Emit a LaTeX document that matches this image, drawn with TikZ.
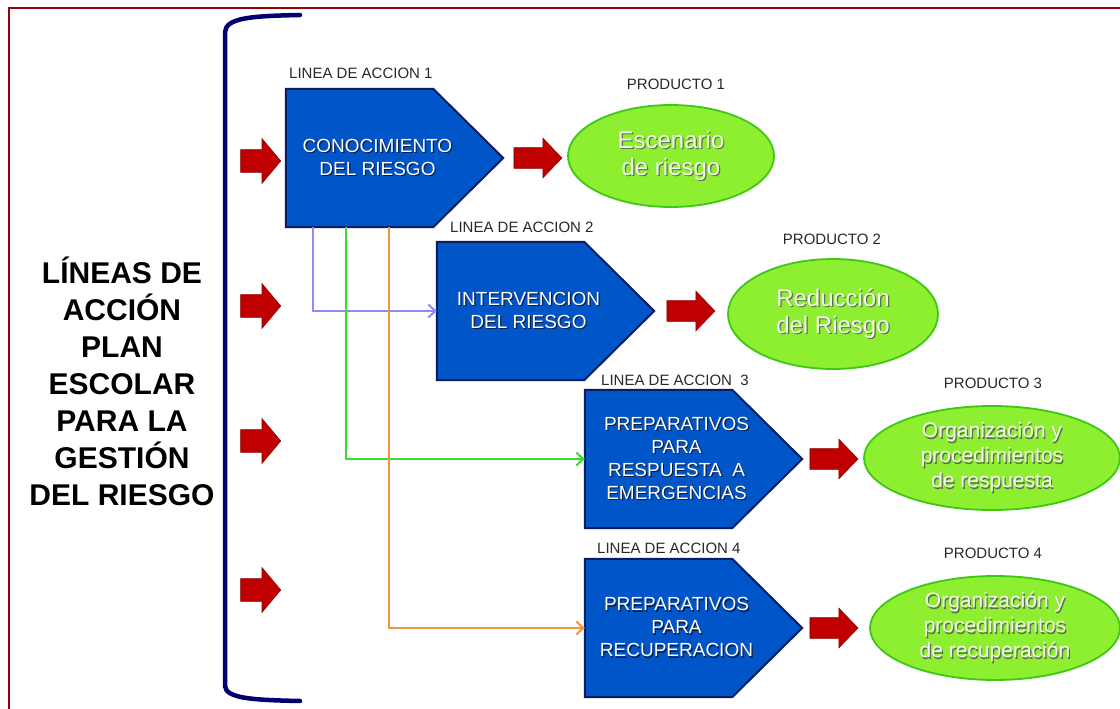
\documentclass[tikz,border=0pt]{standalone}
\usepackage{fontspec}
\setmainfont{Liberation Sans}
\usetikzlibrary{shapes.arrows,shapes.geometric,arrows.meta,calc}
\definecolor{boxblue}{RGB}{0,86,200}
\definecolor{boxedge}{RGB}{10,28,100}
\definecolor{leafgreen}{RGB}{142,238,48}
\definecolor{leafedge}{RGB}{60,200,20}
\definecolor{arrowred}{RGB}{192,0,0}
\definecolor{arrowedge}{RGB}{140,0,0}
\definecolor{bracenavy}{RGB}{0,0,112}
\definecolor{framered}{RGB}{150,0,0}
\definecolor{linkpurple}{RGB}{140,140,245}
\definecolor{linkgreen}{RGB}{60,220,50}
\definecolor{linkorange}{RGB}{240,150,60}
\definecolor{labelgray}{RGB}{40,40,40}
\definecolor{boxshadow}{RGB}{10,30,70}
\definecolor{leafshadow}{RGB}{90,110,80}
\definecolor{leaftext}{RGB}{244,255,232}
\newcommand{\txtshadow}[2]{\makebox[0pt][l]{\kern1.2pt\raisebox{-1.2pt}{\textcolor{#1}{#2}}}#2}
\newcommand{\bs}[1]{\txtshadow{boxshadow}{#1}}
\newcommand{\ls}[1]{\txtshadow{leafshadow}{#1}}
\begin{document}
\begin{tikzpicture}[x=1pt,y=-1pt,
  boxframe/.style={draw=none, minimum width=217pt, minimum height=138pt, inner sep=0pt},
  boxshape/.style={fill=boxblue, draw=boxedge, line width=2pt, line join=miter},
  boxtext/.style={text=white, align=center, inner sep=0pt, font=\fontsize{19}{23}\selectfont},
  leaf/.style={ellipse, fill=leafgreen, draw=leafedge, line width=1.8pt, inner sep=0pt, text=leaftext, align=center},
  bigleaf/.style={leaf, font=\fontsize{24}{27}\selectfont},
  smallleaf/.style={leaf, font=\fontsize{21}{25}\selectfont},
  redarrow/.style={single arrow, fill=arrowred, draw=arrowedge, line width=0.6pt, inner sep=0pt,
     text height=10pt, text depth=10pt, text width=0pt,
     single arrow head extend=9.5pt, single arrow head indent=0pt, single arrow tip angle=92,
     minimum width=39pt, minimum height=48pt},
  siderarrow/.style={single arrow, fill=arrowred, draw=arrowedge, line width=0.6pt, inner sep=0pt,
     text height=11pt, text depth=11pt, text width=0pt,
     single arrow head extend=11pt, single arrow head indent=0pt, single arrow tip angle=100,
     minimum width=44pt, minimum height=40pt},
  linelabel/.style={anchor=base west, inner sep=0pt, text=labelgray, font=\fontsize{15}{17}\selectfont},
  prodlabel/.style={anchor=base, inner sep=0pt, text=labelgray, font=\fontsize{15}{17}\selectfont},
  lefttext/.style={align=center, inner sep=0pt, font=\fontsize{30}{37}\selectfont\bfseries},
  link/.style={line width=2pt, -{Straight Barb[length=7pt,width=13pt]}},
  bracepath/.style={draw=bracenavy, line width=4.5pt, line cap=round},
  frameline/.style={draw=framered, line width=2.5pt}
]
\useasboundingbox (0,0) rectangle (1120,709);
\fill[white] (0,0) rectangle (1120,709);
% frame
\draw[frameline] (9,716) -- (9,8) -- (1126,8);
% brace
\draw[bracepath] (300,15) .. controls (250,16) and (226,18) .. (225,32) -- (225,686)
   .. controls (226,698) and (250,700) .. (300,701);
% left title
\node[lefttext] (title) at (122,381) {LÍNEAS DE\\ACCIÓN\\PLAN\\ESCOLAR\\PARA LA\\GESTIÓN\\DEL RIESGO};
% left arrows
\node[siderarrow] (s1) at (256,161) {};
\node[siderarrow] (s2) at (256,306) {};
\node[siderarrow] (s3) at (256,441) {};
\node[siderarrow] (s4) at (256,590) {};
% boxes
\node[boxframe] (b1) at (394.5,158) {};
\node[boxframe] (b2) at (545.5,311) {};
\node[boxframe] (b3) at (693.5,459) {};
\node[boxframe] (b4) at (693.5,628) {};
\foreach \b in {b1,b2,b3,b4}{
  \draw[boxshape] (\b.north west) -- ($(\b.north east)+(-70,0)$) -- (\b.east)
     -- ($(\b.south east)+(-70,0)$) -- (\b.south west) -- cycle;
}
\node[boxtext] (t1) at ($(b1.center)+(-17,0)$) {\bs{CONOCIMIENTO}\\\bs{DEL RIESGO}};
\node[boxtext] (t2) at ($(b2.center)+(-17,0)$) {\bs{INTERVENCION}\\\bs{DEL RIESGO}};
\node[boxtext] (t3) at ($(b3.center)+(-17,0)$) {\bs{PREPARATIVOS}\\\bs{PARA}\\\bs{RESPUESTA\ \ A}\\\bs{EMERGENCIAS}};
\node[boxtext] (t4) at ($(b4.center)+(-17,0)$) {\bs{PREPARATIVOS}\\\bs{PARA}\\\bs{RECUPERACION}};
% line labels
\node[linelabel] (l1) at (289,78.5) {LINEA DE ACCION 1};
\node[linelabel] (l2) at (450,232) {LINEA DE ACCION 2};
\node[linelabel] (l3) at (601,385) {LINEA DE ACCION\ \ 3};
\node[linelabel] (l4) at (597,553) {LINEA DE ACCION 4};
% right arrows
\node[redarrow] (a1) at (533,158) {};
\node[redarrow] (a2) at (686,311) {};
\node[redarrow] (a3) at (829,459) {};
\node[redarrow] (a4) at (829,628) {};
% products
\node[prodlabel] (p1) at (676,89) {PRODUCTO 1};
\node[prodlabel] (p2) at (832,244) {PRODUCTO 2};
\node[prodlabel] (p3) at (993,388) {PRODUCTO 3};
\node[prodlabel] (p4) at (993,558) {PRODUCTO 4};
\node[bigleaf, minimum width=206pt, minimum height=102pt] (e1) at (671,156) {\ls{Escenario}\\\ls{de riesgo}};
\node[bigleaf, minimum width=210pt, minimum height=110pt] (e2) at (833,314) {\ls{Reducción}\\\ls{del Riesgo}};
\node[smallleaf, minimum width=256pt, minimum height=104pt] (e3) at (992,458) {\ls{Organización y}\\\ls{procedimientos}\\\ls{de respuesta}};
\node[smallleaf, minimum width=250pt, minimum height=104pt] (e4) at (995,628) {\ls{Organización y}\\\ls{procedimientos}\\\ls{de recuperación}};
% connectors
\draw[link, linkpurple] ($(b1.south west)+(27,0)$) |- (b2.west);
\draw[link, linkgreen] ($(b1.south west)+(60,0)$) |- (b3.west);
\draw[link, linkorange] ($(b1.south west)+(103,0)$) |- (b4.west);
\end{tikzpicture}
\end{document}
